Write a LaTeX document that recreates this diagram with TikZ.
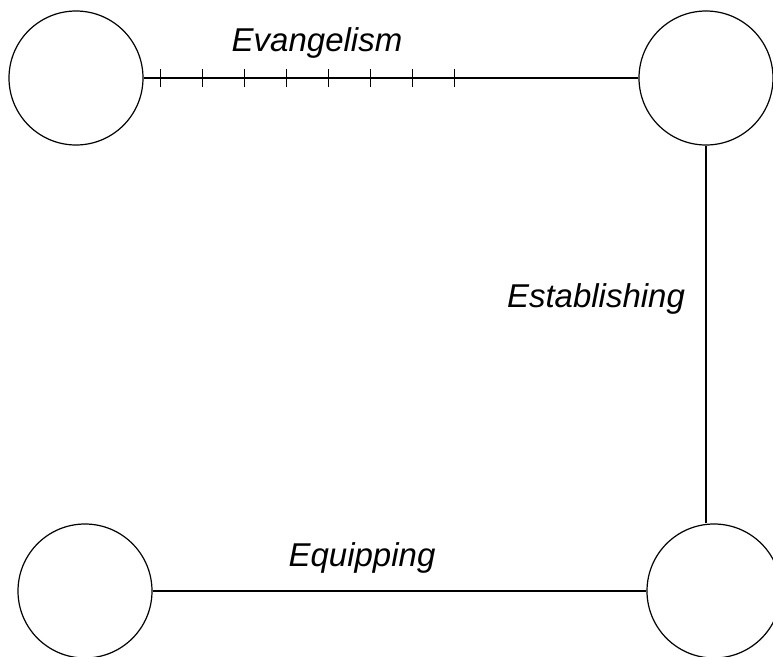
\documentclass[tikz,border=0pt]{standalone}
\usepackage{fontspec}
\setmainfont{Liberation Sans}
\usepackage{tikz}
\usetikzlibrary{decorations.markings}
\usetikzlibrary{positioning}

\begin{document}
\begin{tikzpicture}[x=1pt, y=-1pt, line width=1.2pt, every node/.style={draw, circle, 
minimum size=134pt, inner sep=0pt}, lbl/.style={draw=none, rectangle, minimum size=0pt, 
anchor=base, font=\fontsize{33}{39}\selectfont\itshape}]
\clip (0,0) rectangle (773,656);
\node (0) at (76,78) {};
\node (1) at (706,78) {};
\node (2) at (85,591) {};
\node (3) at (714,591) {};
\node[lbl] (4) at (317,51) {Evangelism};
\node[lbl] (5) at (596,307) {Establishing};
\node[lbl] (6) at (362,566) {Equipping};
\draw[postaction={decorate}, decoration={markings, 
mark=between positions 17pt and 320pt step 42pt with {\draw (0,-9pt) -- (0,9pt);}}] (0) -- (1);
\draw (1.south) -- (1.south |- 3.north);
\draw (2) -- (3);
\end{tikzpicture}
\end{document}
